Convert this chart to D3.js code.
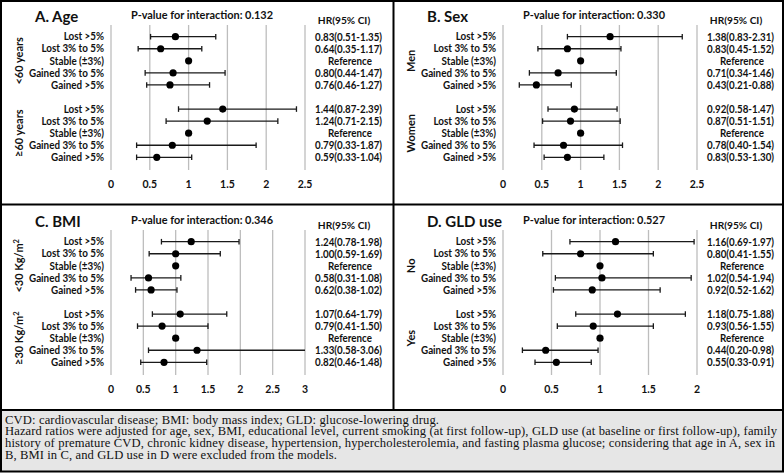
<!DOCTYPE html>
<html><head><meta charset="utf-8">
<script src="https://cdn.jsdelivr.net/npm/d3@7"></script>
<style>
html,body{margin:0;padding:0;background:#fff;}
svg{display:block;}
</style></head>
<body>
<svg id="chart" width="784" height="473"></svg>
<script>
// ---------- data ----------
const categories = ["Lost >5%","Lost 3% to 5%","Stable (±3%)","Gained 3% to 5%","Gained >5%"];
const panelTitles = ["A. Age","B. Sex","C. BMI","D. GLD use"];
const pValues = ["0.132","0.330","0.346","0.527"];
const groupLabels = [["<60 years","≥60 years"],["Men","Women"],["<30 Kg/m2","≥30 Kg/m2"],["No","Yes"]];
const axisMax = [2.5,2.5,3,2];
const tickValues = [[0,0.5,1,1.5,2,2.5],[0,0.5,1,1.5,2,2.5],[0,0.5,1,1.5,2,2.5,3],[0,0.5,1,1.5,2]];

// HR, lower, upper  (null = reference)
const ageHR = [[0.83,0.64,1,0.80,0.76],[1.44,1.24,1,0.79,0.59]];
const ageLo = [[0.51,0.35,null,0.44,0.46],[0.87,0.71,null,0.33,0.33]];
const ageHi = [[1.35,1.17,null,1.47,1.27],[2.39,2.15,null,1.87,1.04]];

const sexHR = [[1.38,0.83,1,0.71,0.43],[0.92,0.87,1,0.78,0.83]];
const sexLo = [[0.83,0.45,null,0.34,0.21],[0.58,0.51,null,0.40,0.53]];
const sexHi = [[2.31,1.52,null,1.46,0.88],[1.47,1.51,null,1.54,1.30]];

const bmiHR = [[1.24,1.00,1,0.58,0.62],[1.07,0.79,1,1.33,0.82]];
const bmiLo = [[0.78,0.59,null,0.31,0.38],[0.64,0.41,null,0.58,0.46]];
const bmiHi = [[1.98,1.69,null,1.08,1.02],[1.79,1.50,null,3.06,1.48]];

const gldHR = [[1.16,0.80,1,1.02,0.92],[1.18,0.93,1,0.44,0.55]];
const gldLo = [[0.69,0.41,null,0.54,0.52],[0.75,0.56,null,0.20,0.33]];
const gldHi = [[1.97,1.55,null,1.94,1.62],[1.88,1.55,null,0.98,0.91]];

const footnoteLines = [
  "CVD: cardiovascular disease; BMI: body mass index; GLD: glucose-lowering drug.",
  "Hazard ratios were adjusted for age, sex, BMI, educational level, current smoking (at first follow-up), GLD use (at baseline or first follow-up), family",
  "history of premature CVD, chronic kidney disease, hypertension, hypercholesterolemia, and fasting plasma glucose; considering that age in A, sex in",
  "B, BMI in C, and GLD use in D were excluded from the models."
];

const panelData = [
  {hr:ageHR, lo:ageLo, hi:ageHi},
  {hr:sexHR, lo:sexLo, hi:sexHi},
  {hr:bmiHR, lo:bmiLo, hi:bmiHi},
  {hr:gldHR, lo:gldLo, hi:gldHi}
];

// ---------- drawing ----------
const svg = d3.select("#chart");
const W = 784, H = 473;
const FONT = "Lato, 'Open Sans', sans-serif";
const origins = [[0,0],[392,0],[0,205],[392,205]];
const fmt = d3.format(".2f");

svg.append("rect").attr("x",0).attr("y",0).attr("width",W).attr("height",H).attr("fill","#fff");

// measure helper: width factor so a sample string reaches a target width
const measureG = svg.append("g").attr("opacity",0);
function factorFor(sample, size, target) {
  const t = measureG.append("text").style("font-family",FONT).style("font-weight","bold")
    .style("font-size", size + "px").text(sample);
  const w = t.node().getComputedTextLength();
  t.remove();
  return target / w;
}
const LABEL_SIZE = 10.5;
const labelFactor = Math.min(1, factorFor("Gained 3% to 5%", LABEL_SIZE, 75));
const hrFactor = Math.min(1, factorFor("0.83(0.51-1.35)", LABEL_SIZE, 67));
function squeeze(sel, factor) {
  sel.each(function() {
    const w = this.getComputedTextLength();
    d3.select(this).attr("textLength", w * factor).attr("lengthAdjust","spacingAndGlyphs");
  });
}

const rowY = d3.scaleLinear().domain([0,10]).range([36.7,157.3]);

panelData.forEach((pd, p) => {
  const [ox, oy] = origins[p];
  const g = svg.append("g").attr("transform", `translate(${ox},${oy})`);
  const x = d3.scaleLinear().domain([0, axisMax[p]]).range([111, 305]);

  // gridlines
  g.append("g").selectAll("line").data(tickValues[p]).join("line")
    .attr("x1", d => x(d)).attr("x2", d => x(d))
    .attr("y1", 25).attr("y2", 170)
    .attr("stroke", "#bdbdbd").attr("stroke-width", 1.3);

  // tick labels
  g.append("g").selectAll("text").data(tickValues[p]).join("text")
    .attr("x", d => x(d)).attr("y", 188)
    .attr("text-anchor","middle")
    .style("font-family", FONT).style("font-weight","bold").style("font-size","10.5px")
    .attr("fill","#111")
    .text(d => d3.format("")(d));

  // title
  g.append("text").attr("x",35).attr("y",21.5)
    .style("font-family", FONT).style("font-weight","bold").style("font-size","15px")
    .attr("fill","#111").text(panelTitles[p]);
  const pv = g.append("text").attr("x",131).attr("y",19)
    .style("font-family", FONT).style("font-weight","bold").style("font-size","11.4px")
    .attr("fill","#111").text("P-value for interaction: " + pValues[p]);
  squeeze(pv, 142 / pv.node().getComputedTextLength());
  g.append("text").attr("x",344).attr("y",24).attr("text-anchor","middle")
    .style("font-family", FONT).style("font-weight","bold").style("font-size","10.2px")
    .attr("fill","#111").text("HR(95% CI)");

  // rows
  const rows = [];
  pd.hr.forEach((grp, gi) => {
    grp.forEach((v, i) => {
      rows.push({slot: gi*6 + i, cat: categories[i], hr: v, lo: pd.lo[gi][i], hi: pd.hi[gi][i]});
    });
  });

  // row labels
  const rl = g.append("g").selectAll("text").data(rows).join("text")
    .attr("x",104).attr("y", d => rowY(d.slot) + 3.7)
    .attr("text-anchor","end")
    .style("font-family", FONT).style("font-weight","bold").style("font-size", LABEL_SIZE + "px")
    .attr("fill","#111").text(d => d.cat);
  squeeze(rl, labelFactor);

  // HR text
  const ht = g.append("g").selectAll("text").data(rows).join("text")
    .attr("x", d => d.lo == null ? 350 : 348.5).attr("y", d => rowY(d.slot) + 3.8)
    .attr("text-anchor","middle")
    .style("font-family", FONT).style("font-weight","bold").style("font-size", LABEL_SIZE + "px")
    .attr("fill","#111")
    .text(d => d.lo == null ? "Reference" : `${fmt(d.hr)}(${fmt(d.lo)}-${fmt(d.hi)})`);
  squeeze(ht, hrFactor);

  // error bars
  const eb = rows.filter(d => d.lo != null);
  const xmax = axisMax[p];
  const ebG = g.append("g").attr("stroke","#1a1a1a").attr("stroke-width",1.3);
  ebG.selectAll("line.ci").data(eb).join("line").attr("class","ci")
    .attr("x1", d => x(d.lo)).attr("x2", d => x(Math.min(d.hi, xmax)))
    .attr("y1", d => rowY(d.slot)).attr("y2", d => rowY(d.slot));
  ebG.selectAll("line.capL").data(eb).join("line").attr("class","capL")
    .attr("x1", d => x(d.lo)).attr("x2", d => x(d.lo))
    .attr("y1", d => rowY(d.slot) - 2.8).attr("y2", d => rowY(d.slot) + 2.8);
  ebG.selectAll("line.capR").data(eb.filter(d => d.hi <= xmax)).join("line").attr("class","capR")
    .attr("x1", d => x(d.hi)).attr("x2", d => x(d.hi))
    .attr("y1", d => rowY(d.slot) - 2.8).attr("y2", d => rowY(d.slot) + 2.8);

  // points
  g.append("g").selectAll("circle").data(rows).join("circle")
    .attr("cx", d => x(d.hr)).attr("cy", d => rowY(d.slot)).attr("r", 3.6)
    .attr("fill","#000");

  // group labels (rotated)
  groupLabels[p].forEach((lab, gi) => {
    const cy = (rowY(gi*6) + rowY(gi*6 + 4)) / 2;
    const t = g.append("text")
      .attr("transform", `translate(23,${cy}) rotate(-90)`)
      .attr("text-anchor","middle")
      .style("font-family", FONT).style("font-weight","bold").style("font-size","11px")
      .attr("fill","#111");
    if (lab.endsWith("m2")) {
      t.append("tspan").text(lab.slice(0, -1));
      t.append("tspan").attr("dy",-4).style("font-size","7.5px").text("2");
    } else {
      t.text(lab);
    }
  });
});

// footnote box
svg.append("rect").attr("x",1).attr("y",410).attr("width",782).attr("height",61)
  .attr("fill","#e6e6e6");
const fnTargets = [434, 772, 770, 332];
const fn = svg.append("g");
fn.selectAll("text").data(footnoteLines).join("text")
  .attr("x",5).attr("y",(d,i) => 423.8 + i*11.6)
  .style("font-family","'Liberation Serif', 'Times New Roman', serif").style("font-size","12.6px")
  .attr("fill","#111").text(d => d)
  .each(function(d, i) {
    d3.select(this).attr("textLength", fnTargets[i]).attr("lengthAdjust","spacing");
  });

// frame lines
const frame = svg.append("g").attr("stroke","#000").attr("stroke-width",2).attr("fill","none");
frame.append("rect").attr("x",1).attr("y",1).attr("width",782).attr("height",470.5);
frame.append("line").attr("x1",393.5).attr("x2",393.5).attr("y1",0).attr("y2",410);
frame.append("line").attr("x1",0).attr("x2",784).attr("y1",204.5).attr("y2",204.5);
frame.append("line").attr("x1",0).attr("x2",784).attr("y1",410).attr("y2",410);
</script>
</body></html>
